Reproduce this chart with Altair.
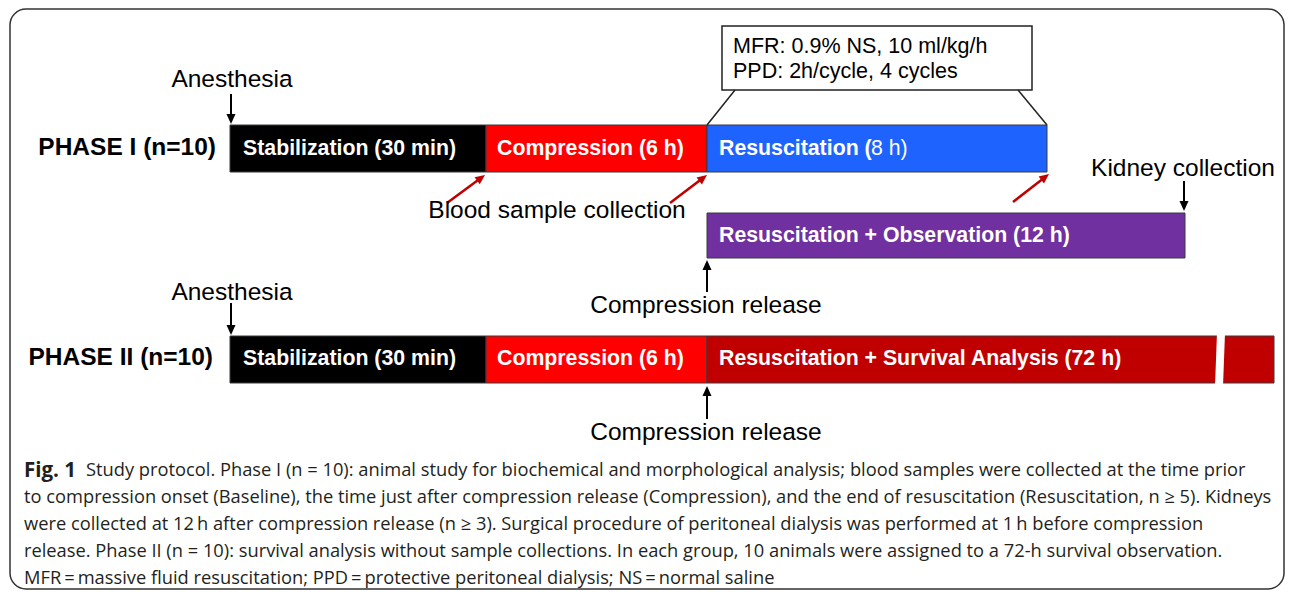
import altair as alt
import pandas as pd
import numpy as np

# ---------------- frame (diagram units = reference pixels) ----------------
X_DOMAIN = [8, 1285]
Y_DOMAIN = [8, 589]
W, H = 1277, 581
xs = alt.Scale(domain=X_DOMAIN, nice=False, zero=False)
ys = alt.Scale(domain=Y_DOMAIN, nice=False, zero=False, reverse=True)

# ---------------- content ----------------
phase_labels = ["PHASE I (n=10)", "PHASE II (n=10)"]
phase_label_x = [216, 213]
phase_label_y = [147, 357]

bar_x0 = [230, 486, 707, 707, 230, 486, 707]
bar_x1 = [486, 707, 1047, 1185, 486, 707, 1274]
bar_y0 = [124, 124, 124, 212, 335, 335, 335]
bar_y1 = [171, 171, 171, 257, 382, 382, 382]
bar_colors = ["#000000", "#ff0000", "#1f63fe", "#7030a0", "#000000", "#ff0000", "#c00000"]

bar_labels = ["Stabilization (30 min)", "Compression (6 h)", "Resuscitation (",
              "Resuscitation + Observation (12 h)", "Stabilization (30 min)",
              "Compression (6 h)", "Resuscitation + Survival Analysis (72 h)"]
bar_label_x = [243, 497, 719, 719, 243, 497, 719]
bar_label_y = [148, 148, 148, 235, 358, 358, 358]
plain_bar_labels = ["8 h)"]
plain_bar_label_x = [871]
plain_bar_label_y = [148]

# break in the 72 h bar
break_x = [1221]
break_x2 = [1219]
break_y = [332]
break_y2 = [385]

# note box
box_x0, box_x1, box_y0, box_y1 = [722], [1032], [25], [89]
box_lines = ["MFR: 0.9% NS, 10 ml/kg/h", "PPD: 2h/cycle, 4 cycles"]
box_line_x = [733, 733]
box_line_y = [45.5, 70.5]
connector_x = [735, 1018]
connector_y = [89, 89]
connector_x2 = [707, 1047]
connector_y2 = [124, 124]

# annotations
notes = ["Anesthesia", "Blood sample collection", "Kidney collection", "Compression release",
         "Anesthesia", "Compression release"]
note_x = [232, 557, 1183, 706, 232, 706]
note_y = [79, 210, 168, 305, 291.5, 431.5]

# black arrows (tail -> tip)
arrow_x = [231, 1184, 707, 231, 707]
arrow_tail_y = [93, 180, 291, 302, 418]
arrow_tip_y = [123, 210, 259, 334, 385]

# red arrows (tail -> tip)
red_tail_x = [447, 670, 1013]
red_tail_y = [202, 202, 201]
red_tip_x = [485, 707, 1049]
red_tip_y = [174, 174, 173]

# outer frame (rounded panel)
frame_x0, frame_x1, frame_y0, frame_y1 = [10], [1284], [8], [588]

# caption
caption_bold = ["Fig. 1"]
caption_bold_x = [24]
caption_lines = [
    "Study protocol. Phase I (n = 10): animal study for biochemical and morphological analysis; blood samples were collected at the time prior",
    "to compression onset (Baseline), the time just after compression release (Compression), and the end of resuscitation (Resuscitation, n \u2265 5). Kidneys",
    "were collected at 12\u2009h after compression release (n \u2265 3). Surgical procedure of peritoneal dialysis was performed at 1\u2009h before compression",
    "release. Phase II (n = 10): survival analysis without sample collections. In each group, 10 animals were assigned to a 72-h survival observation.",
    "MFR\u2009=\u2009massive fluid resuscitation; PPD\u2009=\u2009protective peritoneal dialysis; NS\u2009=\u2009normal saline",
]
caption_x = [86, 24, 24, 24, 24]
caption_y = [469.5, 496.5, 523.5, 550.5, 577.5]

# ---------------- helpers ----------------
def X(f="x"):
    return alt.X(f"{f}:Q", scale=xs, axis=None)

def Y(f="y"):
    return alt.Y(f"{f}:Q", scale=ys, axis=None)

def text_layer(texts, x, y, size, weight="normal", color="#000000", align="left",
               font="Liberation Sans"):
    df = pd.DataFrame({"t": texts, "x": x, "y": y})
    return alt.Chart(df).mark_text(fontSize=size, fontWeight=weight, color=color,
                                   align=align, baseline="middle", font=font).encode(
        x=X(), y=Y(), text="t:N")

layers = []

# frame
frame = pd.DataFrame({"x": frame_x0, "x2": frame_x1, "y": frame_y0, "y2": frame_y1})
layers.append(alt.Chart(frame).mark_rect(fillOpacity=0, stroke="#333333", strokeWidth=1.5,
                                         cornerRadius=16).encode(
    x=X(), x2="x2:Q", y=Y(), y2="y2:Q"))

# bars
bars = pd.DataFrame({"x": bar_x0, "x2": bar_x1, "y": bar_y0, "y2": bar_y1, "c": bar_colors})
layers.append(alt.Chart(bars).mark_rect(stroke="#3a3a3a", strokeWidth=1).encode(
    x=X(), x2="x2:Q", y=Y(), y2="y2:Q", fill=alt.Fill("c:N", scale=None)))

# break gap
brk = pd.DataFrame({"x": break_x, "x2": break_x2, "y": break_y, "y2": break_y2})
layers.append(alt.Chart(brk).mark_rule(color="white", strokeWidth=8).encode(
    x=X(), x2="x2:Q", y=Y(), y2="y2:Q"))

# note box + connectors
box = pd.DataFrame({"x": box_x0, "x2": box_x1, "y": box_y0, "y2": box_y1})
layers.append(alt.Chart(box).mark_rect(fill="white", stroke="#222222", strokeWidth=1.5).encode(
    x=X(), x2="x2:Q", y=Y(), y2="y2:Q"))
conn = pd.DataFrame({"x": connector_x, "y": connector_y, "x2": connector_x2, "y2": connector_y2})
layers.append(alt.Chart(conn).mark_rule(color="#222222", strokeWidth=1.5).encode(
    x=X(), x2="x2:Q", y=Y(), y2="y2:Q"))

# arrows
HEAD = "M0,0L0.45,1L-0.45,1Z"

def arrow_layers(tx, ty, hx, hy, color, width, head_size, head_len):
    tx, ty, hx, hy = map(lambda a: np.asarray(a, float), (tx, ty, hx, hy))
    dx, dy = hx - tx, hy - ty
    L = np.hypot(dx, dy)
    ux, uy = dx / L, dy / L
    ang = np.degrees(np.arctan2(dx, -dy)) % 360
    shaft = pd.DataFrame({"x": tx, "y": ty, "x2": hx - ux * head_len, "y2": hy - uy * head_len})
    head = pd.DataFrame({"x": hx, "y": hy, "a": ang})
    s = alt.Chart(shaft).mark_rule(color=color, strokeWidth=width).encode(
        x=X(), x2="x2:Q", y=Y(), y2="y2:Q")
    h = alt.Chart(head).mark_point(shape=HEAD, filled=True, fill=color, opacity=1,
                                   strokeWidth=0, size=head_size).encode(
        x=X(), y=Y(), angle=alt.Angle("a:Q", scale=None))
    return [s, h]

layers += arrow_layers(arrow_x, arrow_tail_y, arrow_x, arrow_tip_y, "#000000", 2, 400, 6)
layers += arrow_layers(red_tail_x, red_tail_y, red_tip_x, red_tip_y, "#c00000", 2.5, 380, 6)

# texts
layers.append(text_layer(phase_labels, phase_label_x, phase_label_y, 24.5, "bold", align="right"))
layers.append(text_layer(bar_labels, bar_label_x, bar_label_y, 21.3, "bold", color="white"))
layers.append(text_layer(plain_bar_labels, plain_bar_label_x, plain_bar_label_y, 21.3, "normal", color="white"))
layers.append(text_layer(box_lines, box_line_x, box_line_y, 21.5))
layers.append(text_layer(notes, note_x, note_y, 24.5, align="center"))
layers.append(text_layer(caption_bold, caption_bold_x, caption_y[:1], 20.5, "bold",
                         color="#231f20", font="Open Sans"))
layers.append(text_layer(caption_lines, caption_x, caption_y, 18.3, "normal",
                         color="#231f20", font="Open Sans"))

chart = alt.layer(*layers).properties(width=W, height=H, padding=0).configure_view(stroke=None)
chart.save("out.html", embed_options={"renderer": "svg", "actions": False})
